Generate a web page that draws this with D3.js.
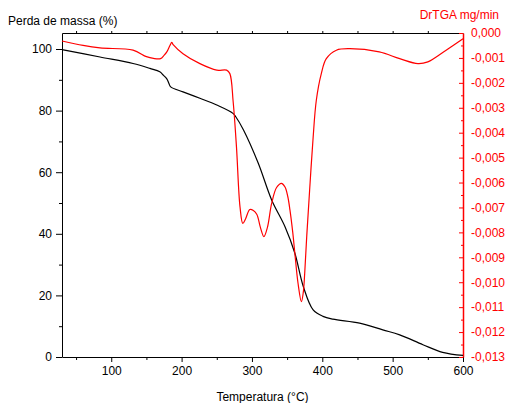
<!DOCTYPE html>
<html lang="pt">
<head>
    <meta charset="UTF-8">
    <title>TGA / DrTGA</title>
    <style>
        body {
            margin: 0;
            padding: 0;
            background: #fff;
        }

        svg text {
            font-family: "Liberation Sans", Arial, sans-serif;
            font-size: 12px;
        }

        .axis path, .axis line {
            stroke: #000;
        }

        .axis text {
            fill: #000;
        }

        .axis-right path, .axis-right line {
            stroke: #ff0000;
        }

        .axis-right text {
            fill: #ff0000;
        }
    </style>
</head>
<body>
    <div id="chart"></div>

    <script src="https://d3js.org/d3.v7.min.js"></script>
    <script>
        // TGA curve: temperature (°C) vs mass (%)
        const tgaTemp = [30, 84, 131, 155, 169, 174, 179, 182, 184.5, 202, 226, 250, 273, 277, 288, 309, 328, 347, 361, 373, 387, 401, 415, 453, 486, 510, 543, 571, 600];
        const tgaMass = [99.8, 97.4, 95.3, 93.7, 92.6, 91.5, 90.3, 88.8, 87.7, 86.1, 84.0, 81.8, 79.1, 78.0, 73.7, 62.9, 51.0, 42.3, 33.7, 22.9, 15.3, 13.2, 12.3, 11.0, 8.8, 7.2, 4.0, 1.5, 0.5];

        // DrTGA curve: temperature (°C) vs derivative (mg/min)
        const dtgTemp = [30, 60, 84, 131, 150, 160, 170, 175, 179, 183.6, 186, 188, 202, 226, 250, 264, 268.6, 273.3, 278, 283, 287, 291, 297, 302, 307, 312, 317, 322, 328, 335, 342, 347, 351, 354, 358, 361, 365.5, 370.3, 373, 375, 378, 382, 386.7, 391.5, 398.6, 405.7, 420, 439, 481, 510, 536, 550, 576, 600];
        const dtgValue = [-0.00032, -0.00050, -0.00060, -0.00069, -0.00095, -0.00102, -0.00103, -0.00090, -0.00076, -0.00049, -0.00038, -0.00047, -0.00083, -0.00123, -0.00149, -0.00149, -0.00163, -0.00276, -0.00457, -0.00697, -0.00764, -0.00745, -0.00708, -0.00712, -0.00728, -0.00780, -0.00817, -0.00780, -0.00684, -0.00620, -0.00603, -0.00618, -0.00657, -0.00710, -0.00800, -0.00884, -0.01004, -0.01078, -0.01040, -0.00964, -0.00810, -0.00630, -0.00430, -0.00270, -0.00163, -0.00103, -0.00069, -0.00063, -0.00076, -0.00103, -0.00123, -0.00116, -0.00069, -0.00023];

        const xTicks = [100, 200, 300, 400, 500, 600];
        const yLeftTicks = [0, 20, 40, 60, 80, 100];
        const yRightTicks = d3.range(0, 14).map(i => -i / 1000);

        const width = 506, height = 403;
        const margin = { top: 33, right: 43, bottom: 46, left: 62 };
        const w = width - margin.left - margin.right;
        const h = height - margin.top - margin.bottom;

        const svg = d3.select("#chart")
            .append("svg")
            .attr("width", width)
            .attr("height", height);

        const g = svg.append("g")
            .attr("transform", "translate(" + margin.left + "," + margin.top + ")");

        const x = d3.scaleLinear().domain([30, 600]).range([0, w]);
        const yL = d3.scaleLinear().domain([0, 105.2]).range([h, 0]);
        const yR = d3.scaleLinear().domain([-0.013, 0]).range([h, 0]);

        const fmtR = d => d3.format(".3f")(d).replace("−", "-").replace(".", ",");

        // minor ticks first (no labels)
        g.append("g")
            .attr("class", "axis")
            .attr("transform", "translate(0," + h + ")")
            .call(d3.axisBottom(x).tickValues(d3.range(50, 600, 100)).tickSize(3).tickFormat(""))
            .call(s => s.select(".domain").remove());

        g.append("g")
            .attr("class", "axis")
            .call(d3.axisLeft(yL).tickValues(d3.range(10, 101, 20)).tickSize(3).tickFormat(""))
            .call(s => s.select(".domain").remove());

        g.append("g")
            .attr("class", "axis-right")
            .attr("transform", "translate(" + w + ",0)")
            .call(d3.axisLeft(yR).tickValues(d3.range(0, 13).map(i => -(i + 0.5) / 1000)).tickSize(2).tickFormat(""))
            .call(s => s.select(".domain").remove());

        // top axis, small outward ticks
        g.append("g")
            .attr("class", "axis")
            .call(d3.axisTop(x).tickValues(d3.range(50, 600, 50)).tickSize(2).tickFormat("").tickSizeOuter(0));

        // main axes
        g.append("g")
            .attr("class", "axis")
            .attr("transform", "translate(0," + h + ")")
            .call(d3.axisBottom(x).tickValues(xTicks).tickSize(5).tickSizeOuter(0).tickPadding(4));

        g.append("g")
            .attr("class", "axis")
            .call(d3.axisLeft(yL).tickValues(yLeftTicks).tickSize(6).tickSizeOuter(0).tickPadding(4));

        const right = g.append("g")
            .attr("class", "axis-right")
            .attr("transform", "translate(" + w + ",0)")
            .call(d3.axisRight(yR).tickValues(yRightTicks).tickSize(0).tickSizeOuter(0).tickPadding(8).tickFormat(fmtR));
        right.select(".domain").attr("stroke-width", 1.5);
        right.selectAll(".tick line").attr("x2", -4);

        // curves
        const tga = tgaTemp.map((t, i) => [t, tgaMass[i]]);
        const dtg = dtgTemp.map((t, i) => [t, dtgValue[i]]);

        g.append("path")
            .datum(tga)
            .attr("fill", "none")
            .attr("stroke", "#000")
            .attr("stroke-width", 1.2)
            .attr("d", d3.line().x(d => x(d[0])).y(d => yL(d[1])).curve(d3.curveCatmullRom));

        g.append("path")
            .datum(dtg)
            .attr("fill", "none")
            .attr("stroke", "#ff0000")
            .attr("stroke-width", 1.2)
            .attr("d", d3.line().x(d => x(d[0])).y(d => yR(d[1])).curve(d3.curveCatmullRom));

        // labels
        svg.append("text")
            .attr("x", 8)
            .attr("y", 25)
            .text("Perda de massa (%)");

        svg.append("text")
            .attr("x", 499)
            .attr("y", 19)
            .attr("text-anchor", "end")
            .attr("fill", "#ff0000")
            .text("DrTGA mg/min");

        svg.append("text")
            .attr("x", margin.left + w / 2)
            .attr("y", 401)
            .attr("text-anchor", "middle")
            .text("Temperatura (°C)");
    </script>
</body>
</html>
